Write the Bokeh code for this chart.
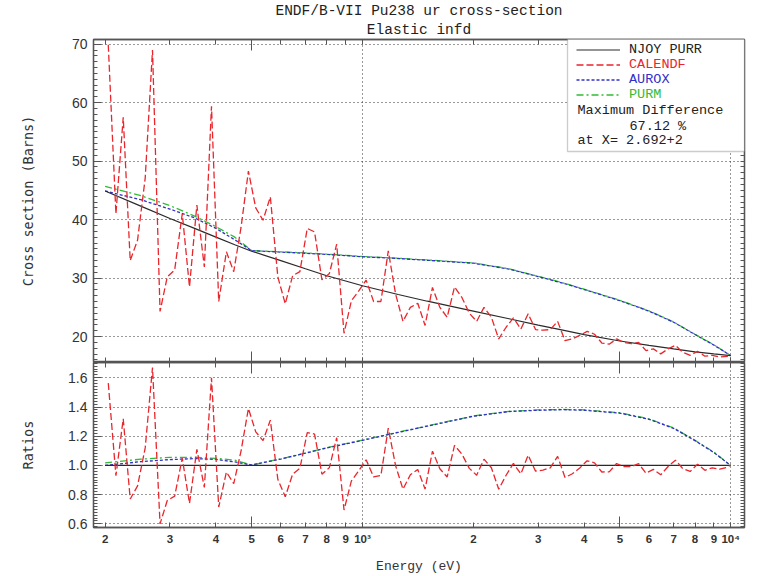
from bokeh.plotting import figure
from bokeh.layouts import column
from bokeh.models import (FixedTicker, LinearAxis, LogAxis, Range1d, Legend, LegendItem,
                          Label, BoxAnnotation, PrintfTickFormatter, Title)
from bokeh.embed import file_html
from bokeh.resources import INLINE

# ---------------- data ----------------
energy_smooth = [200, 250, 300, 350, 400, 450, 500, 600, 700, 800, 900, 1000, 1250, 1500,
                 2000, 2500, 3000, 3500, 4000, 5000, 6000, 7000, 8000, 9000, 10000]
njoy = [44.9, 42.3, 40.2, 38.5, 37.0, 35.7, 34.6, 33.0, 31.6, 30.4, 29.5, 28.7, 27.2, 26.05,
        24.35, 23.05, 21.95, 21.1, 20.35, 19.25, 18.5, 17.9, 17.4, 17.05, 16.75]
purm = [45.7, 44.1, 42.4, 40.6, 38.8, 37.0, 34.7, 34.5, 34.3, 34.1, 33.9, 33.7, 33.4, 33.1,
        32.6, 31.6, 30.3, 29.2, 28.1, 26.2, 24.4, 22.5, 20.4, 18.6, 16.75]
aurox = [44.9, 43.4, 41.8, 40.3, 38.5, 36.55, 34.7, 34.45, 34.25, 34.05, 33.85, 33.65, 33.35, 33.05,
         32.55, 31.55, 30.25, 29.15, 28.05, 26.15, 24.35, 22.45, 20.35, 18.55, 16.75]

energy_calendf = [204, 214, 224, 234, 245, 257, 269, 282, 295, 309, 324, 339, 355, 372, 389, 407,
                  427, 447, 468, 490, 513, 537, 562, 589, 617, 646, 676, 708, 741, 776, 813, 851,
                  891, 933, 977, 1023, 1072, 1122, 1175, 1230, 1288, 1349, 1413, 1479, 1549, 1622,
                  1698, 1778, 1862, 1950, 2042, 2138, 2239, 2344, 2455, 2570, 2692, 2818, 2951,
                  3090, 3236, 3388, 3548, 3715, 3891, 4074, 4266, 4467, 4677, 4898, 5129, 5370,
                  5623, 5888, 6166, 6457, 6761, 7079, 7413, 7762, 8128, 8511, 8913, 9333, 9772, 10000]
calendf = [69.9, 41.0, 57.5, 33.0, 36.5, 47.1, 69.0, 24.3, 30.2, 31.4,
           41.0, 28.5, 42.5, 31.9, 59.4, 26.0, 34.5, 31.1, 38.7, 48.3,
           42.0, 39.9, 43.9, 30.2, 25.6, 30.4, 31.1, 38.5, 37.9, 29.7,
           30.8, 35.8, 20.56, 26.13, 27.8, 29.66, 26.0, 26.0, 34.65, 27.27,
           22.6, 25.0, 25.7, 21.9, 28.4, 25.0, 23.3, 28.5, 26.7, 24.0,
           22.6, 25.0, 23.3, 19.6, 21.6, 23.2, 21.3, 23.9, 21.2, 21.1,
           21.2, 22.6, 19.3, 19.6, 20.2, 20.9, 20.4, 18.9, 18.7, 19.6,
           19.0, 18.8, 19.0, 17.6, 17.9, 17.05, 17.9, 18.5, 17.3, 16.8,
           17.5, 16.65, 16.8, 16.5, 16.6, 16.8]

ratio_calendf = [1.564, 0.93, 1.32, 0.77, 0.86, 1.12, 1.671, 0.60, 0.76, 0.79,
                 1.05, 0.74, 1.11, 0.85, 1.60, 0.715, 0.955, 0.875, 1.10, 1.39,
                 1.23, 1.17, 1.31, 0.905, 0.785, 0.94, 0.98, 1.225, 1.215, 0.94,
                 0.985, 1.19, 0.695, 0.894, 0.963, 1.039, 0.921, 0.931, 1.255, 0.999,
                 0.837, 0.936, 0.972, 0.838, 1.098, 0.977, 0.921, 1.138, 1.078, 0.980,
                 0.933, 1.043, 0.984, 0.837, 0.933, 1.014, 0.942, 1.070, 0.961, 0.968,
                 0.984, 1.062, 0.918, 0.943, 0.983, 1.032, 1.018, 0.955, 0.956, 1.013,
                 0.992, 0.992, 1.012, 0.947, 0.973, 0.936, 0.993, 1.036, 0.978, 0.959,
                 1.009, 0.967, 0.984, 0.974, 0.987, 1.003]
ratio_purm = [1.018, 1.043, 1.055, 1.055, 1.049, 1.036, 1.003, 1.045, 1.085, 1.122, 1.149, 1.174,
              1.228, 1.271, 1.339, 1.371, 1.380, 1.384, 1.381, 1.361, 1.319, 1.257, 1.172, 1.091, 1.0]
ratio_aurox = [1.0, 1.026, 1.040, 1.047, 1.041, 1.024, 1.003, 1.044, 1.084, 1.120, 1.147, 1.172,
               1.226, 1.269, 1.337, 1.369, 1.378, 1.382, 1.378, 1.358, 1.316, 1.254, 1.170, 1.088, 1.0]
ratio_njoy_energy = [200, 10000]
ratio_njoy = [1.0, 1.0]

x_tick_values = [200, 300, 400, 500, 600, 700, 800, 900, 1000,
                 2000, 3000, 4000, 5000, 6000, 7000, 8000, 9000, 10000]
x_tick_labels = ["2", "3", "4", "5", "6", "7", "8", "9", "10\u00b3",
                 "2", "3", "4", "5", "6", "7", "8", "9", "10\u2074"]
x_long_ticks = [500, 5000]
x_short_ticks = [200, 300, 400, 600, 700, 800, 900, 1000,
                 2000, 3000, 4000, 6000, 7000, 8000, 9000, 10000]
x_grid_values = [1000, 10000]
y_top_ticks = [20, 30, 40, 50, 60, 70]
y_ratio_ticks = [0.6, 0.8, 1.0, 1.2, 1.4, 1.6]

title_text = "ENDF/B-VII Pu238 ur cross-section"
subtitle_text = "Elastic infd"
legend_names = ["NJOY PURR", "CALENDF", "AUROX", "PURM"]
max_diff_lines = ["Maximum Difference", "67.12 %", "at X= 2.692+2"]

# ---------------- styles ----------------
AX = "#555555"
C_NJOY = "#2a2a2a"
C_CAL = "#e8262c"
C_AUR = "#3030c8"
C_PURM = "#33bb33"
MONO = "Liberation Mono"
SANS = "Liberation Sans"
W, LB, RB = 760, 93, 16
XR = (186, 10900)


def style_axis(ax):
    ax.axis_line_color = AX
    ax.axis_line_width = 1.3
    ax.major_tick_line_color = AX
    ax.minor_tick_line_color = AX
    ax.major_tick_out = 0
    ax.minor_tick_out = 0


def tick_only_axis(cls, minor, length):
    # an axis that shows only (unlabelled) inward tick marks
    ax = cls(ticker=FixedTicker(ticks=[], minor_ticks=minor),
             minor_tick_in=length, major_tick_in=0, major_label_standoff=0)
    style_axis(ax)
    return ax


def add_x_tick_axes(p, side):
    p.add_layout(tick_only_axis(LogAxis, x_long_ticks, 11), side)
    ax = tick_only_axis(LogAxis, x_short_ticks, 5)
    ax.axis_line_color = None
    p.add_layout(ax, side)


def setup_grid(p, yt):
    p.xgrid.ticker = FixedTicker(ticks=x_grid_values)
    p.ygrid.ticker = FixedTicker(ticks=yt)
    for g in (p.xgrid, p.ygrid):
        g.grid_line_color = "#333333"
        g.grid_line_dash = "1 3"
        g.grid_line_width = 1
    p.outline_line_color = AX
    p.outline_line_width = 1.3


def setup_left(ax, ticks, minor, label, standoff):
    ax.ticker = FixedTicker(ticks=ticks, minor_ticks=minor)
    ax.major_tick_in = 8
    ax.minor_tick_in = 4
    style_axis(ax)
    ax.major_label_text_font = SANS
    ax.major_label_text_font_size = "14px"
    ax.major_label_text_color = "#333333"
    ax.major_label_standoff = 6
    ax.axis_label = label
    ax.axis_label_text_font = "DejaVu Sans Mono"
    ax.axis_label_text_font_size = "13.5px"
    ax.axis_label_text_font_style = "normal"
    ax.axis_label_text_color = "#333333"
    ax.axis_label_standoff = standoff


# ---------------- top panel ----------------
p1 = figure(width=W, height=362, x_axis_type="log", x_axis_location=None,
            x_range=Range1d(*XR), y_range=Range1d(15.57, 70.8),
            output_backend="svg", toolbar_location=None, title_location=None,
            min_border_left=LB, min_border_right=RB, min_border_top=38, min_border_bottom=0)
setup_grid(p1, y_top_ticks)
top_minor = list(range(16, 71))
setup_left(p1.yaxis[0], y_top_ticks, top_minor, "Cross section (Barns)", 33)
p1.add_layout(tick_only_axis(LinearAxis, top_minor, 4), "right")
add_x_tick_axes(p1, "below")
add_x_tick_axes(p1, "above")
p1.add_layout(Title(text=subtitle_text, align="center", text_font=MONO, text_font_size="14.5px",
                    text_font_style="normal", text_color="#222222", standoff=3), "above")
p1.add_layout(Title(text=title_text, align="center", text_font=MONO, text_font_size="14.5px",
                    text_font_style="normal", text_color="#222222", standoff=0), "above")

r_purm = p1.line(energy_smooth, purm, line_color=C_PURM, line_width=1.3, line_dash="7 3 2 3")
r_aur = p1.line(energy_smooth, aurox, line_color=C_AUR, line_width=1.3, line_dash="3 2")
r_njoy = p1.line(energy_smooth, njoy, line_color=C_NJOY, line_width=1.2)
r_cal = p1.line(energy_calendf, calendf, line_color=C_CAL, line_width=1.3, line_dash="7 3")

# legend box
box = BoxAnnotation(left=474, right=651, bottom=211, top=324,
                    left_units="screen", right_units="screen",
                    bottom_units="screen", top_units="screen",
                    fill_color="white", fill_alpha=1.0, line_color=AX, line_width=1.3)
p1.add_layout(box)

renderers = [r_njoy, r_cal, r_aur, r_purm]
colors = ["#222222", C_CAL, C_AUR, C_PURM]
row_bottoms = [304.2, 289, 274, 259]
for name, r, col, vy in zip(legend_names, renderers, colors, row_bottoms):
    lg = Legend(items=[LegendItem(label=name, renderers=[r])], location=(483, vy),
                border_line_color=None, background_fill_alpha=0, padding=0, margin=0,
                spacing=0, glyph_width=44, glyph_height=17, label_height=17,
                label_standoff=9, label_text_font=MONO, label_text_font_size="13.5px",
                label_text_color=col)
    p1.add_layout(lg)

for txt, x, y in zip(max_diff_lines, [484, 536, 484], [252, 236.5, 222]):
    p1.add_layout(Label(x=x, y=y, x_units="screen", y_units="screen", text=txt,
                        text_font=MONO, text_font_size="13.5px", text_color="#222222",
                        text_baseline="middle", text_align="left"))

# ---------------- bottom panel ----------------
p2 = figure(width=W, height=214, x_axis_type="log",
            x_range=Range1d(*XR), y_range=Range1d(0.575, 1.705),
            output_backend="svg", toolbar_location=None, title_location=None,
            min_border_left=LB, min_border_right=RB, min_border_top=0, min_border_bottom=49)
setup_grid(p2, y_ratio_ticks)
ratio_minor = [round(0.58 + 0.02 * i, 2) for i in range(57)]
ly2 = p2.yaxis[0]
setup_left(ly2, y_ratio_ticks, ratio_minor, "Ratios", 29)
ly2.formatter = PrintfTickFormatter(format="%.1f")
p2.add_layout(tick_only_axis(LinearAxis, ratio_minor, 4), "right")

bx = p2.xaxis[0]
bx.ticker = FixedTicker(ticks=x_tick_values, minor_ticks=x_long_ticks)
bx.major_tick_in = 5
bx.minor_tick_in = 11
style_axis(bx)
bx.major_label_overrides = dict(zip(x_tick_values, x_tick_labels))
bx.major_label_text_font = SANS
bx.major_label_text_font_size = "11.5px"
bx.major_label_text_font_style = "bold"
bx.major_label_text_color = "#333333"
bx.major_label_standoff = 5
bx.axis_label = "Energy (eV)"
bx.axis_label_text_font = MONO
bx.axis_label_text_font_size = "13px"
bx.axis_label_text_font_style = "normal"
bx.axis_label_text_color = "#333333"
bx.axis_label_standoff = 11
add_x_tick_axes(p2, "above")

p2.line(energy_smooth, ratio_purm, line_color=C_PURM, line_width=1.3, line_dash="7 3 2 3")
p2.line(energy_smooth, ratio_aurox, line_color=C_AUR, line_width=1.3, line_dash="3 2")
p2.line(ratio_njoy_energy, ratio_njoy, line_color=C_NJOY, line_width=1.2)
p2.line(energy_calendf, ratio_calendf, line_color=C_CAL, line_width=1.3, line_dash="7 3")

layout = column(p1, p2)
open("out.html", "w").write(file_html(layout, INLINE))
